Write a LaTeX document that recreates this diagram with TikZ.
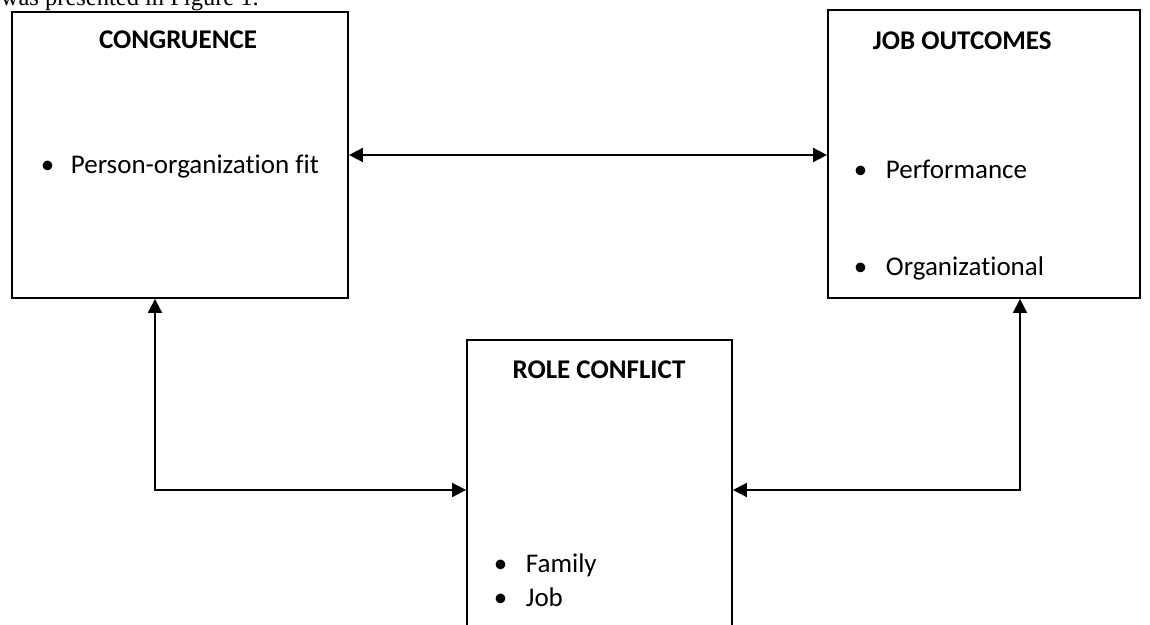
\documentclass[tikz,border=0pt]{standalone}
\usepackage{fontspec}
\setmainfont{Carlito}[Ligatures=NoCommon]
\newfontfamily\capfont{Liberation Serif}
\usetikzlibrary{positioning,arrows.meta,calc}

\begin{document}
\begin{tikzpicture}[x=1pt, y=-1pt, line width=1.8pt, font=\fontsize{27}{32}\selectfont,
  box/.style={draw, line width=1.8pt, inner sep=0pt},
  head/.style={anchor=base, inner sep=0pt, font=\fontsize{27}{32}\selectfont\bfseries},
  item/.style={anchor=base west, inner sep=0pt},
  link/.style={{Triangle[length=14pt,width=14pt]}-{Triangle[length=14pt,width=14pt]}}]
  \useasboundingbox (0,0) rectangle (1150,624);

  \node[anchor=base west, inner sep=0pt, font=\capfont\fontsize{24.5}{28}\selectfont] (caption) at (0,5) {was presented in Figure 1.};

  \node[box, minimum width=336pt, minimum height=286pt] (cong) at (180,155) {};
  \node[box, minimum width=312pt, minimum height=288pt] (job) at (984,154) {};
  \node[box, minimum width=265pt, minimum height=300pt] (role) at (599.5,490) {};

  \node[head] (congtitle) at (178,48) {CONGRUENCE};
  \node[head, anchor=base west] (jobtitle) at (872,49) {JOB OUTCOMES};
  \node[head] (roletitle) at (599,378) {ROLE CONFLICT};

  \node[item] (fit) at (40,173) {\makebox[30pt][l]{\textbullet}Person-organization fit};
  \node[item] (perf) at (853,178) {\makebox[32pt][l]{\textbullet}Performance};
  \node[item] (org) at (853,275) {\makebox[32pt][l]{\textbullet}Organizational};
  \node[item] (family) at (493,572) {\makebox[32pt][l]{\textbullet}Family};
  \node[item] (jobitem) at (493,606) {\makebox[32pt][l]{\textbullet}Job};

  \draw[link] (cong.east) -- (cong.east -| job.west);
  \draw[link] (role.west) -| ([xshift=-25pt]cong.south);
  \draw[link] (role.east) -| ([xshift=36pt]job.south);
\end{tikzpicture}
\end{document}
